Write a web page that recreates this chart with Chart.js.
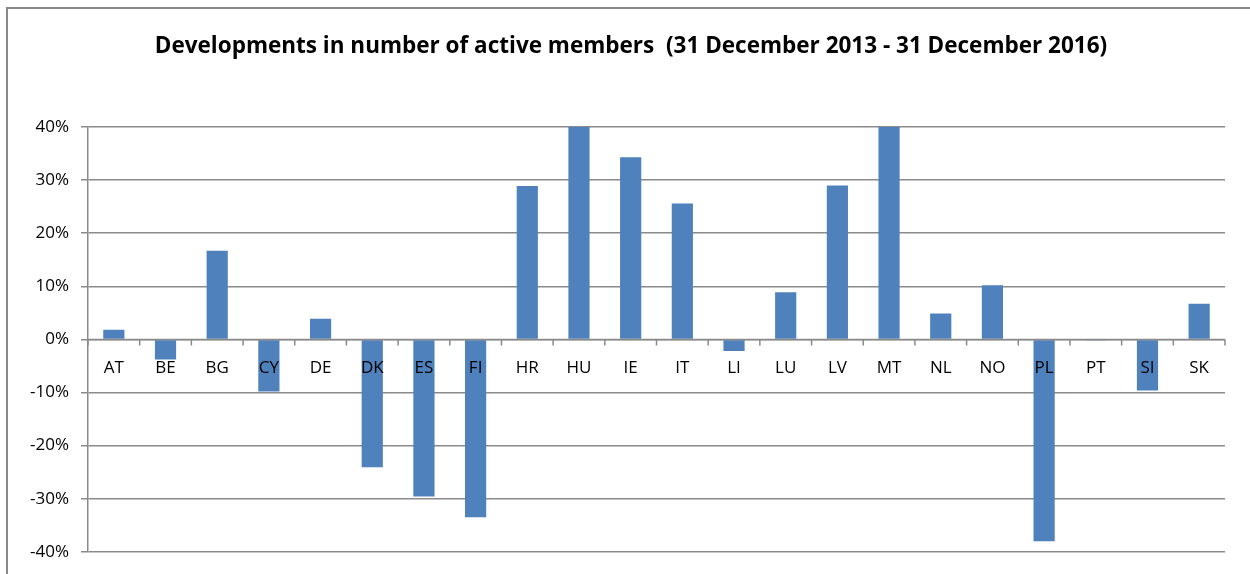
<!DOCTYPE html>
<html>
<head>
<meta charset="utf-8">
<script src="https://cdn.jsdelivr.net/npm/chart.js@4"></script>
<style>
  html, body { margin: 0; padding: 0; background: #fff; }
  #wrap { width: 1250px; height: 574px; position: relative; }
</style>
</head>
<body>
<div id="wrap"><canvas id="membersChart"></canvas></div>
<script>
// countries and % change in active members, 31 Dec 2013 - 31 Dec 2016
const countries = ['AT', 'BE', 'BG', 'CY', 'DE', 'DK', 'ES', 'FI', 'HR', 'HU', 'IE',
                   'IT', 'LI', 'LU', 'LV', 'MT', 'NL', 'NO', 'PL', 'PT', 'SI', 'SK'];
const changePct = [1.8, -3.8, 16.7, -9.8, 3.9, -24.1, -29.6, -33.5, 28.9, 40, 34.3,
                   25.6, -2.2, 8.9, 29.0, 40, 4.9, 10.2, -38.0, -0.2, -9.6, 6.7];
const yTicks = [-40, -30, -20, -10, 0, 10, 20, 30, 40];
const titleText = 'Developments in number of active members  (31 December 2013 - 31 December 2016)';

const GRID = '#8a8a8a';
const FONT = "'Open Sans', 'Noto Sans', sans-serif";

// frame (top + left edges visible) and the title, centred like the original
const framePlugin = {
  id: 'frame',
  beforeDraw(chart) {
    const ctx = chart.ctx;
    ctx.save();
    ctx.strokeStyle = GRID;
    ctx.lineWidth = 2;
    ctx.beginPath();
    ctx.moveTo(7, chart.height);
    ctx.lineTo(7, 8);
    ctx.lineTo(chart.width, 8);
    ctx.stroke();
    ctx.fillStyle = '#000';
    ctx.font = `bold 22.5px ${FONT}`;
    ctx.textAlign = 'center';
    ctx.textBaseline = 'middle';
    ctx.fillText(titleText, 631, 47);
    ctx.restore();
  },
};

// category labels and tick marks sitting on the zero line
const zeroAxisPlugin = {
  id: 'zeroAxis',
  afterDatasetsDraw(chart) {
    const { ctx, scales: { x, y }, chartArea } = chart;
    const y0 = y.getPixelForValue(0);
    const step = x.getPixelForValue(1) - x.getPixelForValue(0);
    ctx.save();
    ctx.strokeStyle = GRID;
    ctx.lineWidth = 1.5;
    ctx.beginPath();
    ctx.moveTo(chartArea.left, y0);
    ctx.lineTo(chartArea.right, y0);
    for (let i = 0; i <= countries.length; i++) {
      const px = x.getPixelForValue(i) - step / 2;
      ctx.moveTo(px, y0);
      ctx.lineTo(px, y0 + 6);
    }
    ctx.stroke();
    ctx.fillStyle = '#000';
    ctx.font = `17px ${FONT}`;
    ctx.textAlign = 'center';
    ctx.textBaseline = 'middle';
    countries.forEach((c, i) => ctx.fillText(c, x.getPixelForValue(i), y0 + 29));
    ctx.restore();
  },
};

new Chart(document.getElementById('membersChart'), {
  type: 'bar',
  data: {
    labels: countries,
    datasets: [{
      data: changePct,
      backgroundColor: '#4f81bd',
      borderWidth: 0,
      categoryPercentage: 0.82,
      barPercentage: 0.5,
    }],
  },
  options: {
    responsive: true,
    maintainAspectRatio: false,
    animation: false,
    layout: { padding: { left: 8, right: 25, top: 127, bottom: 21 } },
    plugins: {
      legend: { display: false },
      tooltip: { enabled: false },
      title: { display: false },
    },
    scales: {
      x: { display: false },
      y: {
        min: -40,
        max: 40,
        afterBuildTicks: (scale) => { scale.ticks = yTicks.map((v) => ({ value: v })); },
        afterFit: (scale) => { scale.width = 80; },
        ticks: {
          color: '#000',
          padding: 12,
          font: { family: FONT, size: 17 },
          callback: (v) => v + '%',
        },
        grid: { color: GRID, lineWidth: 1.5, tickLength: 7, tickColor: GRID },
        border: { color: GRID, width: 1.5 },
      },
    },
  },
  plugins: [framePlugin, zeroAxisPlugin],
});
</script>
</body>
</html>
